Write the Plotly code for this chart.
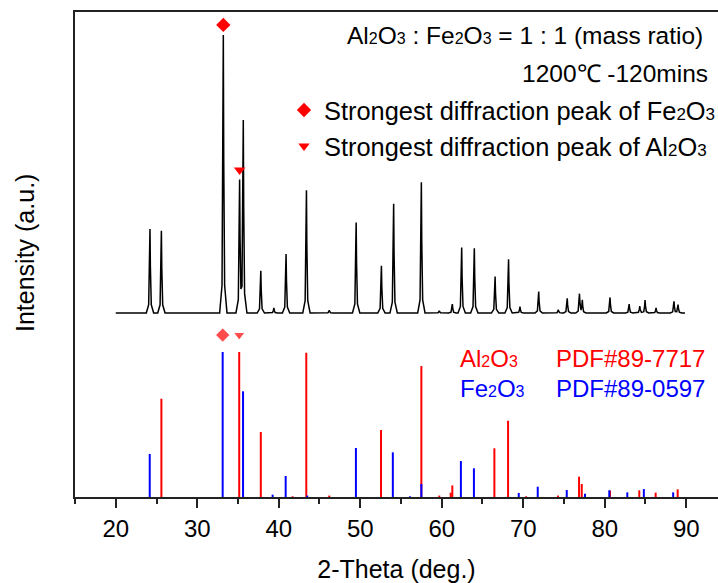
import numpy as np
import plotly.graph_objects as go

# ---------------- data ----------------
# measured XRD pattern: peak positions (2-theta, deg) and relative intensities (%)
pattern_pos = [24.2, 25.6, 33.2, 35.2, 35.65, 37.8, 39.4, 40.9, 43.4, 46.2, 49.5,
               52.6, 54.1, 57.5, 59.7, 61.3, 62.45, 64.0, 66.55, 68.2, 69.6,
               71.9, 74.3, 75.4, 76.9, 77.25, 80.65, 83.0, 84.3, 84.95, 86.3,
               88.5, 89.0]
pattern_int = [30.2, 29.6, 100.0, 48.0, 69.4, 15.2, 1.8, 21.2, 44.2, 1.0, 32.6,
               17.0, 39.3, 47.0, 0.8, 3.2, 23.6, 23.3, 13.1, 19.3, 2.3,
               7.7, 1.2, 5.3, 6.8, 4.5, 5.6, 3.2, 2.5, 4.7, 1.8,
               4.2, 3.0]
pattern_start, pattern_end = 20.0, 89.85

# reference card Al2O3 PDF#89-7717 (position, relative intensity %)
al_pos = [25.6, 35.15, 37.8, 41.7, 43.38, 46.2, 52.55, 57.5, 59.7, 61.1, 61.3,
          66.46, 68.14, 70.35, 74.27, 76.85, 77.18, 80.65, 84.24, 86.25, 88.95]
al_int = [67.8, 100.0, 44.8, 0.5, 99.5, 1.0, 46.2, 90.3, 1.0, 3.0, 8.0,
          33.6, 52.6, 0.5, 1.0, 14.0, 9.0, 4.5, 4.6, 3.0, 5.3]

# reference card Fe2O3 PDF#89-0597
fe_pos = [24.17, 33.12, 35.62, 39.25, 40.85, 43.5, 49.47, 54.0, 56.1, 57.5,
          62.35, 63.95, 69.45, 71.78, 75.34, 77.58, 80.56, 82.77, 84.8, 88.4]
fe_int = [29.7, 100.0, 72.9, 1.6, 14.5, 1.0, 33.8, 30.8, 0.5, 9.0,
          24.8, 19.8, 2.8, 7.1, 4.8, 2.3, 4.6, 3.2, 5.5, 3.2]

# strongest peaks marked
fe_strongest = 33.2
al_strongest = 35.2

x_ticks = [20, 30, 40, 50, 60, 70, 80, 90]

# ---------------- styling / layout constants ----------------
PAT_OFFSET = 126.9      # vertical offset of measured pattern (stacked display)
PAT_SCALE = 1.917       # scale of measured pattern relative to the stick cards
Y_MAX = 334.5
X_RANGE = [15, 93.9]
FONT = "Liberation Sans, Arial, sans-serif"
RED = "#ff0000"
BLUE = "#0000ff"

# peak profile template (shape only)
prof_dx = np.array([-0.45, -0.16, -0.05, 0.0, 0.05, 0.16, 0.45])
prof_f = np.array([0.0, 0.10, 0.55, 1.0, 0.55, 0.10, 0.0])

xs = [pattern_start, pattern_end]
for p in pattern_pos:
    xs.extend(list(p + prof_dx))
xs = np.unique(np.array(xs))
xs = xs[(xs >= pattern_start) & (xs <= pattern_end)]
ys = np.zeros_like(xs)
for p, h in zip(pattern_pos, pattern_int):
    ys += h * np.interp(xs, p + prof_dx, prof_f, left=0.0, right=0.0)
ys_plot = PAT_OFFSET + PAT_SCALE * ys


def sticks(pos, inten):
    sx, sy = [], []
    for p, h in zip(pos, inten):
        sx += [p, p, None]
        sy += [0, h, None]
    return sx, sy


def px_x(px):
    return (px - 75) / 643


def px_y(py):
    return 1 - (py - 12) / 485


sub = lambda d, s=16: f"<span style='font-size:{s}px'>{d}</span>"

fig = go.Figure()
ax, ay = sticks(al_pos, al_int)
fx, fy = sticks(fe_pos, fe_int)
fig.add_trace(go.Scatter(x=ax, y=ay, mode="lines", line=dict(color=RED, width=2),
                         showlegend=False, hoverinfo="skip"))
fig.add_trace(go.Scatter(x=fx, y=fy, mode="lines", line=dict(color=BLUE, width=2),
                         showlegend=False, hoverinfo="skip"))
fig.add_trace(go.Scatter(x=xs, y=ys_plot, mode="lines",
                         line=dict(color="black", width=1.5), showlegend=False))

fe_h = pattern_int[pattern_pos.index(fe_strongest)]
al_h = pattern_int[pattern_pos.index(al_strongest)]
fig.add_trace(go.Scatter(
    x=[fe_strongest], y=[PAT_OFFSET + PAT_SCALE * fe_h + 7],
    mode="markers", marker=dict(symbol="diamond", size=11, color=RED),
    name=f"Strongest diffraction peak of Fe{sub(2, 17)}O{sub(3, 17)}"))
fig.add_trace(go.Scatter(
    x=[al_strongest], y=[PAT_OFFSET + PAT_SCALE * al_h + 6.6],
    mode="markers", marker=dict(symbol="triangle-down", size=10, color=RED),
    name=f"Strongest diffraction peak of Al{sub(2, 17)}O{sub(3, 17)}"))
fig.add_trace(go.Scatter(
    x=[fe_pos[1], al_pos[1]], y=[111.7, 111.7], mode="markers",
    marker=dict(symbol=["diamond", "triangle-down"], size=[11, 10], color=RED),
    showlegend=False))

ann = [
    dict(text=f"Al{sub(2)}O{sub(3)} : Fe{sub(2)}O{sub(3)} = 1 : 1 (mass ratio)",
         x=px_x(705), y=px_y(35), xanchor="right", color="black", size=24.5),
    dict(text="1200℃ -120mins", x=px_x(710), y=px_y(73),
         xanchor="right", color="black", size=24.5),
    dict(text=f"Al{sub(2)}O{sub(3)}", x=px_x(458), y=px_y(358),
         xanchor="left", color=RED, size=24),
    dict(text="PDF#89-7717", x=px_x(554), y=px_y(358),
         xanchor="left", color=RED, size=24),
    dict(text=f"Fe{sub(2)}O{sub(3)}", x=px_x(458), y=px_y(388),
         xanchor="left", color=BLUE, size=24),
    dict(text="PDF#89-0597", x=px_x(554), y=px_y(388),
         xanchor="left", color=BLUE, size=24),
]
for a in ann:
    fig.add_annotation(text=a["text"], x=a["x"], y=a["y"], xref="paper", yref="paper",
                       xanchor=a["xanchor"], yanchor="middle", showarrow=False,
                       font=dict(family=FONT, size=a["size"], color=a["color"]))

# y-axis title
fig.add_annotation(text="Intensity (a.u.)", x=px_x(25), y=px_y(253), xref="paper",
                   yref="paper", textangle=-90, showarrow=False, xanchor="center",
                   yanchor="middle", font=dict(family=FONT, size=25, color="black"))

fig.update_layout(
    width=718, height=583,
    margin=dict(l=75, r=0, t=12, b=86, autoexpand=False),
    paper_bgcolor="white", plot_bgcolor="white",
    font=dict(family=FONT, size=24, color="black"),
    showlegend=True,
    legend=dict(x=px_x(284), y=px_y(87), xanchor="left", yanchor="top",
                bgcolor="rgba(0,0,0,0)", font=dict(family=FONT, size=25.4, color="black"),
                itemwidth=30, tracegroupgap=0),
    xaxis=dict(range=X_RANGE, tickvals=x_ticks, ticks="outside", ticklen=9, tickwidth=2,
               tickcolor="#222", showline=True, linewidth=2, linecolor="#222",
               mirror=True, showgrid=False, zeroline=False,
               minor=dict(ticks="outside", ticklen=5, tickwidth=2, tickcolor="#222", dtick=5,
                          tick0=15, showgrid=False),
               tickfont=dict(family=FONT, size=24, color="black"),
               title=dict(text="2-Theta (deg.)", font=dict(family=FONT, size=25, color="black"),
                          standoff=20)),
    yaxis=dict(range=[0, Y_MAX], showticklabels=False, ticks="", showline=True, linewidth=2,
               linecolor="#222", showgrid=False, zeroline=False),
)

fig.write_html("out.html")
